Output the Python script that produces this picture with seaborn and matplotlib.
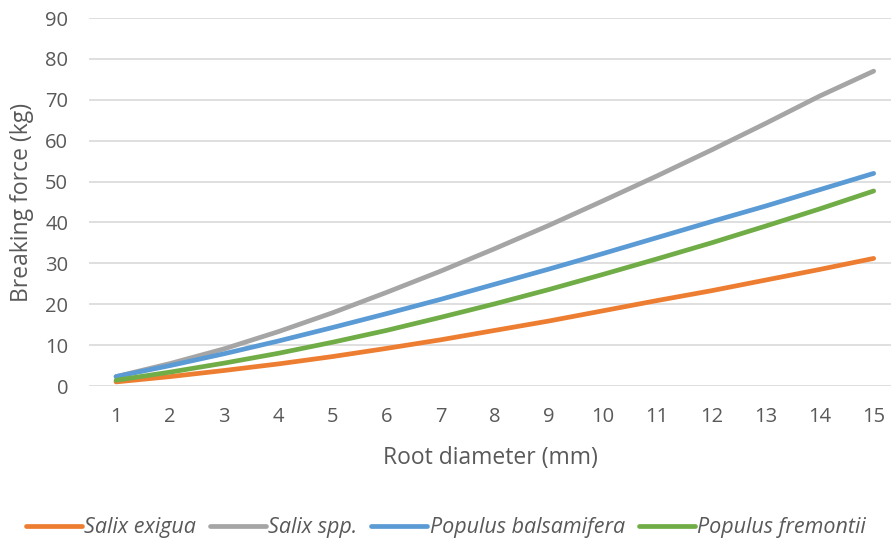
import matplotlib
matplotlib.use("Agg")
import matplotlib.pyplot as plt
import seaborn as sns
import pandas as pd

diameters = list(range(1, 16))
salix_exigua = [1.0, 2.3, 3.8, 5.4, 7.2, 9.2, 11.3, 13.6, 15.9, 18.4, 20.9, 23.3, 25.9, 28.5, 31.2]
salix_spp = [2.3, 5.5, 9.1, 13.3, 17.9, 22.9, 28.1, 33.6, 39.3, 45.3, 51.4, 57.7, 64.2, 70.9, 77.0]
populus_balsamifera = [2.3, 5.0, 7.9, 11.0, 14.3, 17.7, 21.2, 24.9, 28.6, 32.4, 36.3, 40.2, 44.0, 48.0, 52.0]
populus_fremontii = [1.4, 3.4, 5.6, 8.0, 10.7, 13.6, 16.8, 20.1, 23.6, 27.3, 31.1, 35.0, 39.1, 43.3, 47.7]
series_names = ["Salix exigua", "Salix spp.", "Populus balsamifera", "Populus fremontii"]
colors = ["#ED7D31", "#A5A5A5", "#5B9BD5", "#70AD47"]

rows = []
for name, vals in zip(series_names, [salix_exigua, salix_spp, populus_balsamifera, populus_fremontii]):
    for d, v in zip(diameters, vals):
        rows.append({"d": d, "v": v, "s": name})
df = pd.DataFrame(rows)

sns.set_theme(style="white")
plt.rcParams["font.family"] = ["Open Sans", "DejaVu Sans"]

fig = plt.figure(figsize=(8.91, 5.40), dpi=100)
ax = fig.add_axes([89/891, 1 - 386/540, 1 - 89/891, (386 - 18)/540])

sns.lineplot(data=df, x="d", y="v", hue="s", palette=colors, hue_order=series_names,
             linewidth=3.4, ax=ax, legend=True, solid_capstyle="round")

ax.set_xlim(0.5, 15.32)
ax.set_ylim(0, 90)
ax.set_yticks(range(0, 91, 10))
ax.set_xticks(diameters)
ax.grid(axis="y", color="#D9D9D9", linewidth=1.2)
ax.set_axisbelow(True)
for sp in ax.spines.values():
    sp.set_visible(False)
ax.tick_params(axis="y", length=0, labelsize=14.5, labelcolor="#595959", pad=15)
ax.tick_params(axis="x", length=0, labelsize=14.5, labelcolor="#595959", pad=15)
ax.set_xlabel("Root diameter (mm)", fontsize=16.5, color="#595959", labelpad=14)
ax.set_ylabel("Breaking force (kg)", fontsize=16.5, color="#595959", labelpad=8)

handles, labels = ax.get_legend_handles_labels()
leg = ax.legend(handles, labels, loc="center", bbox_to_anchor=(0.445, -0.385), ncol=4,
                frameon=False, handlelength=2.6, handletextpad=0.1, columnspacing=0.65,
                prop={"style": "italic", "size": 15.5})
for t in leg.get_texts():
    t.set_color("#595959")
for l in leg.get_lines():
    l.set_linewidth(3.4)

fig.savefig("out.png", dpi=100)
